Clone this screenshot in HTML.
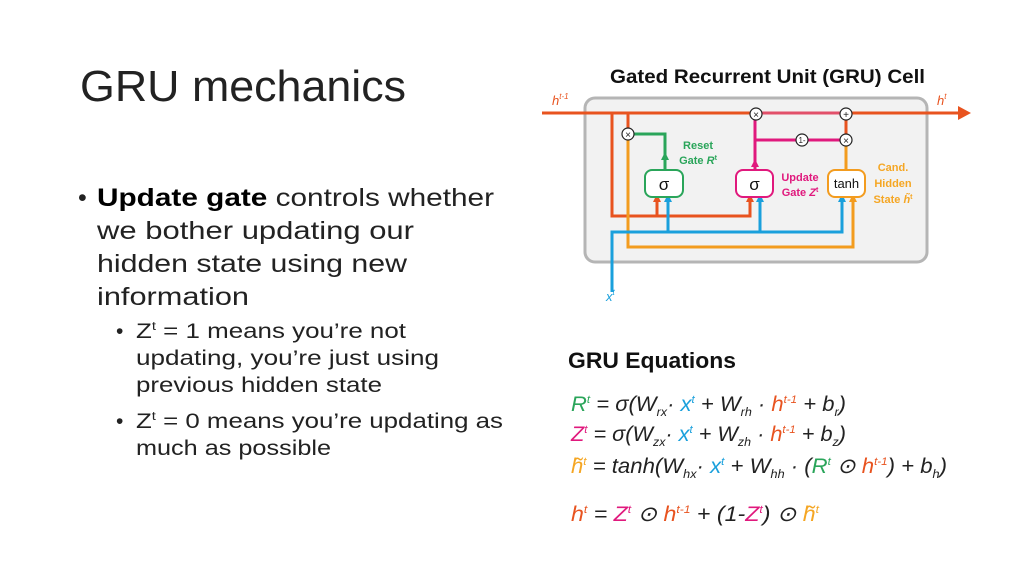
<!DOCTYPE html>
<html><head><meta charset="utf-8"><style>
html,body{margin:0;padding:0;background:#fff;}
svg{display:block;font-family:"Liberation Sans",sans-serif;}
</style></head><body>
<svg width="1024" height="576" viewBox="0 0 1024 576" xmlns="http://www.w3.org/2000/svg">
<rect width="1024" height="576" fill="#fff"/>
<!-- left text -->
<text x="80" y="101" font-size="44" fill="#222" textLength="326" lengthAdjust="spacingAndGlyphs">GRU mechanics</text>
<g font-size="25" fill="#222">
<text x="78" y="206">•</text>
<text x="97" y="206" textLength="397" lengthAdjust="spacingAndGlyphs"><tspan font-weight="normal" fill="#000" style="font-weight:600">Update gate</tspan> controls whether</text>
<text x="97" y="239" textLength="317" lengthAdjust="spacingAndGlyphs">we bother updating our</text>
<text x="97" y="272" textLength="310" lengthAdjust="spacingAndGlyphs">hidden state using new</text>
<text x="97" y="305" textLength="152" lengthAdjust="spacingAndGlyphs">information</text>
</g>
<g font-size="21" fill="#222">
<text x="116" y="338">•</text>
<text x="136" y="338" textLength="270" lengthAdjust="spacingAndGlyphs">Z<tspan font-size="12" dy="-8">t</tspan><tspan dy="8"> = 1 means you’re not</tspan></text>
<text x="136" y="365" textLength="303" lengthAdjust="spacingAndGlyphs">updating, you’re just using</text>
<text x="136" y="392" textLength="246" lengthAdjust="spacingAndGlyphs">previous hidden state</text>
<text x="116" y="428">•</text>
<text x="136" y="428" textLength="367" lengthAdjust="spacingAndGlyphs">Z<tspan font-size="12" dy="-8">t</tspan><tspan dy="8"> = 0 means you’re updating as</tspan></text>
<text x="136" y="455" textLength="195" lengthAdjust="spacingAndGlyphs">much as possible</text>
</g>

<!-- diagram -->
<text x="610" y="83" font-size="19" font-weight="bold" fill="#111" textLength="315" lengthAdjust="spacingAndGlyphs">Gated Recurrent Unit (GRU) Cell</text>
<rect x="585" y="98" width="342" height="164" rx="10" fill="#f2f2f2" stroke="#b5b5b5" stroke-width="3"/>
<g fill="none" stroke-width="3" stroke-linejoin="miter">
<!-- orange-red h path -->
<path d="M612 113 V216 H750 V200" stroke="#e8531f"/>
<path d="M657 216 V200" stroke="#e8531f"/>
<path d="M628 113 V129" stroke="#e8531f"/>
<!-- yellow/orange -->
<path d="M628 139 V247 H853 V200" stroke="#f39c1f"/>
<path d="M846 170 V145" stroke="#f39c1f"/>
<path d="M846 135 V119" stroke="#e8531f"/>
<!-- blue -->
<path d="M612 292 V232 H842 V200" stroke="#1aa0dc"/>
<path d="M668 232 V200 M760 232 V200" stroke="#1aa0dc"/>
<!-- green -->
<path d="M633 134 H665 V170" stroke="#2aa55a"/>
<!-- magenta -->
<path d="M755 170 V119 M755 140 H797 M807 140 H841" stroke="#e0197d"/>
<path d="M761 113 H841" stroke="#e2506a"/>
</g>
<!-- main line -->
<path d="M542 113 H751 M851 113 H960" stroke="#e8531f" stroke-width="3"/>
<path d="M958 106 L971 113 L958 120 Z" fill="#e8531f"/>
<!-- arrowheads up -->
<g>
<path d="M653 202 L657 194 L661 202Z" fill="#e8531f"/>
<path d="M746 202 L750 194 L754 202Z" fill="#e8531f"/>
<path d="M664 202 L668 194 L672 202Z" fill="#1aa0dc"/>
<path d="M756 202 L760 194 L764 202Z" fill="#1aa0dc"/>
<path d="M838 202 L842 194 L846 202Z" fill="#1aa0dc"/>
<path d="M849 202 L853 194 L857 202Z" fill="#f39c1f"/>
<path d="M661 160 L665 152 L669 160Z" fill="#2aa55a"/>
<path d="M751 167 L755 159 L759 167Z" fill="#e0197d"/>
</g>
<!-- boxes -->
<rect x="645" y="170" width="38" height="27" rx="7" fill="#fff" stroke="#2aa55a" stroke-width="2"/>
<text x="664" y="190" font-size="17" text-anchor="middle" fill="#111">σ</text>
<rect x="736" y="170" width="37" height="27" rx="7" fill="#fff" stroke="#e0197d" stroke-width="2"/>
<text x="754.5" y="190" font-size="17" text-anchor="middle" fill="#111">σ</text>
<rect x="828" y="170" width="37" height="27" rx="7" fill="#fff" stroke="#f39c1f" stroke-width="2"/>
<text x="846.5" y="188" font-size="13" text-anchor="middle" fill="#111">tanh</text>
<!-- circles -->
<g fill="#fff" stroke="#222" stroke-width="1.2">
<circle cx="628" cy="134" r="6"/><circle cx="756" cy="114" r="6"/><circle cx="846" cy="114" r="6"/>
<circle cx="802" cy="140" r="6"/><circle cx="846" cy="140" r="6"/>
</g>
<g font-size="10" text-anchor="middle" fill="#222">
<text x="628" y="138">×</text><text x="756" y="118">×</text><text x="846" y="118">+</text>
<text x="846" y="144">×</text><text x="802" y="143" font-size="8">1-</text>
</g>
<!-- labels -->
<g font-size="13" font-style="italic" fill="#e8531f">
<text x="552" y="105">h<tspan font-size="8" dy="-6">t-1</tspan></text>
<text x="937" y="105">h<tspan font-size="8" dy="-6">t</tspan></text>
</g>
<text x="606" y="301" font-size="13" font-style="italic" fill="#1aa0dc">x<tspan font-size="8" dy="-6">t</tspan></text>
<g font-size="11" font-weight="bold" fill="#2aa55a" text-anchor="middle">
<text x="698" y="149">Reset</text><text x="698" y="164">Gate <tspan font-style="italic">R</tspan><tspan font-size="7" dy="-4">t</tspan></text>
</g>
<g font-size="11" font-weight="bold" fill="#e0197d" text-anchor="middle">
<text x="800" y="181">Update</text><text x="800" y="196">Gate <tspan font-style="italic">Z</tspan><tspan font-size="7" dy="-4">t</tspan></text>
</g>
<g font-size="11" font-weight="bold" fill="#f5a623" text-anchor="middle">
<text x="893" y="171">Cand.</text><text x="893" y="187">Hidden</text><text x="893" y="203">State <tspan font-style="italic">h̃</tspan><tspan font-size="7" dy="-4">t</tspan></text>
</g>

<!-- equations -->
<text x="568" y="368" font-size="22" font-weight="bold" fill="#111" textLength="168" lengthAdjust="spacingAndGlyphs">GRU Equations</text>
<g font-size="21" font-style="italic" fill="#222">
<text x="571" y="411" textLength="275" lengthAdjust="spacingAndGlyphs"><tspan fill="#2aa55a">R</tspan><tspan fill="#2aa55a" font-size="11" dy="-8">t</tspan><tspan dy="8"> = σ(W</tspan><tspan font-size="12" dy="5">rx</tspan><tspan dy="-5">· </tspan><tspan fill="#1aa0dc">x</tspan><tspan fill="#1aa0dc" font-size="11" dy="-8">t</tspan><tspan dy="8"> + W</tspan><tspan font-size="12" dy="5">rh</tspan><tspan dy="-5"> · </tspan><tspan fill="#e8531f">h</tspan><tspan fill="#e8531f" font-size="11" dy="-8">t-1</tspan><tspan dy="8"> + b</tspan><tspan font-size="12" dy="5">r</tspan><tspan dy="-5">)</tspan></text>
<text x="571" y="441" textLength="275" lengthAdjust="spacingAndGlyphs"><tspan fill="#e0197d">Z</tspan><tspan fill="#e0197d" font-size="11" dy="-8">t</tspan><tspan dy="8"> = σ(W</tspan><tspan font-size="12" dy="5">zx</tspan><tspan dy="-5">· </tspan><tspan fill="#1aa0dc">x</tspan><tspan fill="#1aa0dc" font-size="11" dy="-8">t</tspan><tspan dy="8"> + W</tspan><tspan font-size="12" dy="5">zh</tspan><tspan dy="-5"> · </tspan><tspan fill="#e8531f">h</tspan><tspan fill="#e8531f" font-size="11" dy="-8">t-1</tspan><tspan dy="8"> + b</tspan><tspan font-size="12" dy="5">z</tspan><tspan dy="-5">)</tspan></text>
<text x="571" y="473" textLength="376" lengthAdjust="spacingAndGlyphs"><tspan fill="#f5a623">h̃</tspan><tspan fill="#f5a623" font-size="11" dy="-8">t</tspan><tspan dy="8"> = tanh(W</tspan><tspan font-size="12" dy="5">hx</tspan><tspan dy="-5">· </tspan><tspan fill="#1aa0dc">x</tspan><tspan fill="#1aa0dc" font-size="11" dy="-8">t</tspan><tspan dy="8"> + W</tspan><tspan font-size="12" dy="5">hh</tspan><tspan dy="-5"> · (</tspan><tspan fill="#2aa55a">R</tspan><tspan fill="#2aa55a" font-size="11" dy="-8">t</tspan><tspan dy="8"> ⊙ </tspan><tspan fill="#e8531f">h</tspan><tspan fill="#e8531f" font-size="11" dy="-8">t-1</tspan><tspan dy="8">) + b</tspan><tspan font-size="12" dy="5">h</tspan><tspan dy="-5">)</tspan></text>
<text x="571" y="521" textLength="248" lengthAdjust="spacingAndGlyphs"><tspan fill="#e8531f">h</tspan><tspan fill="#e8531f" font-size="11" dy="-8">t</tspan><tspan dy="8"> = </tspan><tspan fill="#e0197d">Z</tspan><tspan fill="#e0197d" font-size="11" dy="-8">t</tspan><tspan dy="8"> ⊙ </tspan><tspan fill="#e8531f">h</tspan><tspan fill="#e8531f" font-size="11" dy="-8">t-1</tspan><tspan dy="8"> + (1-</tspan><tspan fill="#e0197d">Z</tspan><tspan fill="#e0197d" font-size="11" dy="-8">t</tspan><tspan dy="8">) ⊙ </tspan><tspan fill="#f5a623">h̃</tspan><tspan fill="#f5a623" font-size="11" dy="-8">t</tspan></text>
</g>
</svg>
</body></html>
